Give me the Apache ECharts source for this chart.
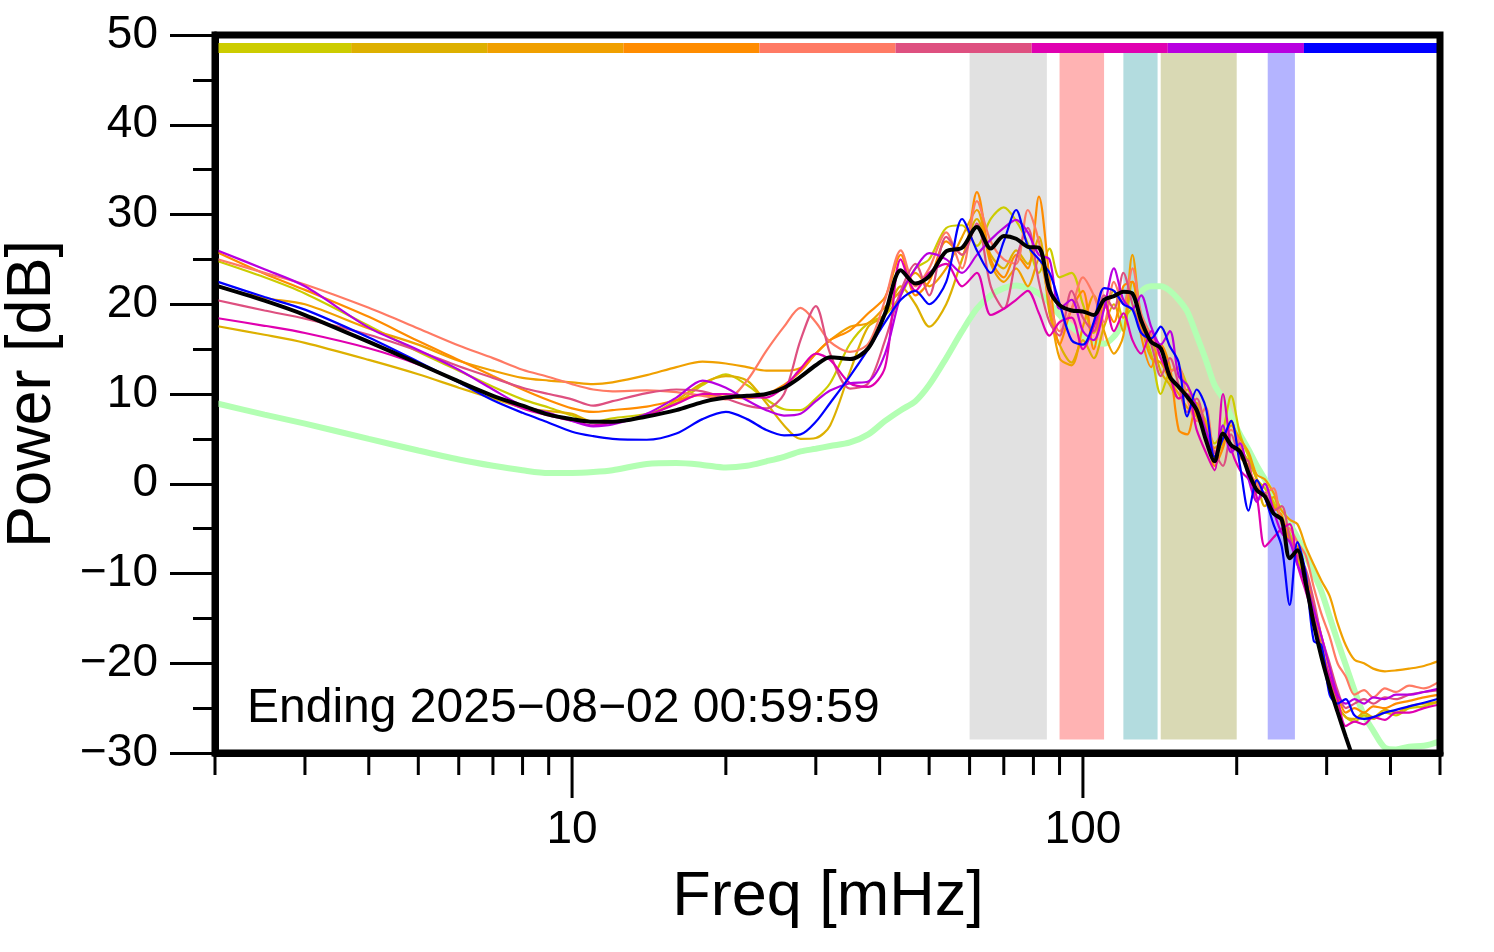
<!DOCTYPE html>
<html><head><meta charset="utf-8">
<script src="https://cdn.jsdelivr.net/npm/echarts@6/dist/echarts.min.js"></script>
<style>html,body{margin:0;padding:0;background:#fff}#c{width:1494px;height:952px}</style>
</head><body><div id="c"></div><script>
// frequencies (mHz)
const freqs = [2,2.5,3,4,5,6,7,8,9,10, 11,12,14,16,18,20,22,24,26,28, 30,32,35,38,41,44,47,50,54,58,
  62,66,70,74,78,82,86,90,95,100, 105,110,115,120,125,130,136,142,148,154, 160,167,174,181,188,195,203,211,219,227,
  236,245,254,263,273,283,293,304,315,327, 340,355,370,390,410,435,465,500];

const c1 = [24.9,23.0,21.2,17.6,14.7,12.6,10.8,9.4,8.5,7.6, 6.9,7.3,7.8,9.0,11.0,12.2,11.0,9.4,8.3,8.2,
  9.5,11.2,15.6,17.9,18.8,21.0,24.0,25.0,28.5,28.8, 26.5,29.5,30.8,29.3,26.8,23.5,26.2,23.0,23.5,20.0,
  16.8,19.5,21.5,18.5,19.5,17.5,14.5,10.0,12.5,12.8, 11.0,8.8,7.0,4.5,6.0,9.8,5.5,3.0,0.5,-0.5,
  -2.0,-4.0,-5.5,-8.0,-11.5,-15.0,-18.5,-22.0,-24.8,-26.0, -26.5,-25.8,-26.2,-25.5,-25.8,-25.0,-24.8,-24.2];
const c2 = [17.6,16.6,15.7,13.8,12.2,10.7,9.5,8.5,8.1,7.8, 6.9,7.0,7.5,9.3,11.2,12.0,11.5,9.0,6.5,5.0,
  5.1,6.5,12.5,17.5,18.8,22.0,20.0,17.5,20.0,25.0, 29.5,25.5,24.0,26.0,24.5,27.5,19.0,15.5,13.5,16.0,
  14.0,17.5,20.0,17.0,22.5,18.5,16.5,12.5,11.0,9.5, 10.5,7.5,5.5,3.0,4.5,7.0,4.0,2.5,0.5,-2.5,
  -1.5,-4.5,-6.0,-8.5,-10.5,-14.5,-18.0,-21.5,-24.5,-26.0, -26.2,-25.5,-26.0,-25.2,-25.5,-24.8,-24.5,-24.3];
const c3 = [22.0,20.7,20.0,17.3,15.5,13.7,12.6,11.8,11.5,11.3, 11.1,11.3,12.1,13.0,13.6,13.4,13.0,12.6,12.6,12.9,
  14.5,16.0,17.5,17.9,19.7,21.5,23.5,22.0,24.0,27.5, 30.5,24.5,22.5,24.0,22.0,25.0,20.0,14.0,13.2,17.5,
  21.0,17.0,14.5,16.5,25.5,18.0,14.0,13.5,11.5,10.0, 8.5,7.5,5.5,4.0,5.0,6.5,5.0,3.5,1.0,0.5,
  -1.0,-3.0,-4.0,-4.5,-7.0,-9.0,-10.8,-12.5,-15.5,-18.0, -19.6,-20.0,-20.6,-20.9,-20.8,-20.6,-20.3,-19.7];
const c4 = [25.9,23.4,21.6,18.6,15.9,13.8,12.0,10.5,9.3,8.4, 8.0,8.2,8.6,9.3,9.9,9.7,9.5,10.0,11.0,12.5,
  14.5,16.0,17.1,19.0,20.8,25.5,21.0,22.5,27.0,25.5, 32.5,25.0,23.0,25.5,24.0,32.0,23.0,15.5,19.5,21.5,
  15.0,20.0,18.0,22.0,22.5,16.5,13.0,15.5,13.0,6.0, 5.5,9.0,6.5,2.0,4.0,7.0,3.0,2.0,-1.0,0.0,
  -2.5,-3.5,-6.5,-7.0,-10.0,-13.5,-17.0,-20.5,-23.5,-25.5, -25.0,-25.5,-24.8,-25.0,-24.5,-24.2,-23.8,-23.5];
const c5 = [25.1,23.5,22.2,19.6,17.3,15.4,14.0,12.7,11.9,11.1, 10.5,10.3,10.4,10.2,9.8,9.4,11.5,14.8,17.5,19.6,
  18.0,15.8,14.7,15.6,20.5,26.0,22.0,24.0,28.0,24.0, 31.5,27.0,25.0,24.5,30.5,27.0,20.5,17.0,19.5,23.0,
  21.0,18.0,22.5,20.0,24.0,19.0,16.5,14.0,12.5,13.0, 9.5,7.0,8.5,3.5,5.0,6.0,4.5,1.5,0.0,-1.0,
  -0.5,-4.5,-5.0,-6.5,-8.0,-11.5,-14.5,-17.0,-20.0,-21.5, -23.5,-23.0,-23.8,-22.8,-23.2,-22.5,-22.8,-22.0];
const c6 = [20.5,19.3,18.4,16.6,14.8,13.1,11.8,10.7,10.0,9.4, 8.7,9.2,10.1,10.5,10.3,9.5,8.7,8.4,10.0,16.0,
  19.8,14.5,10.6,11.2,16.0,21.5,24.5,21.0,27.5,25.5, 29.0,22.0,19.5,25.0,28.5,22.5,18.0,16.5,21.5,18.5,
  17.0,21.0,19.5,23.5,20.0,17.0,15.5,12.0,14.0,11.0, 8.0,9.5,6.0,3.5,2.0,5.5,3.0,2.5,-2.0,-1.0,
  -3.0,-2.5,-6.0,-8.0,-9.5,-13.0,-17.0,-20.0,-23.0,-25.0, -24.5,-24.0,-24.5,-23.8,-24.0,-23.5,-23.2,-23.0];
const c7 = [18.5,17.6,16.8,15.1,13.3,11.4,9.8,8.4,7.6,7.0, 6.5,6.8,7.6,8.9,10.0,10.0,9.7,9.6,10.8,12.8,
  14.5,13.8,11.2,10.8,13.0,25.0,21.5,23.5,24.5,22.0, 23.5,18.8,19.5,20.5,21.5,19.0,16.5,18.0,18.5,15.0,
  17.5,20.5,17.0,19.0,16.0,14.5,17.0,14.0,12.0,9.5, 10.0,6.0,3.5,1.5,10.0,4.0,1.5,0.5,-1.5,-7.0,
  -6.0,-5.0,-4.5,-9.0,-12.0,-15.0,-18.5,-21.5,-24.0,-27.0, -26.5,-26.8,-26.0,-26.3,-25.5,-25.5,-25.0,-24.6];
const c8 = [26.1,23.9,22.0,17.4,14.9,12.7,10.5,8.7,7.9,7.0, 6.4,6.6,7.8,9.6,11.5,10.7,9.3,8.2,7.6,7.8,
  9.2,10.4,11.2,11.4,14.5,21.0,24.0,25.7,25.0,23.5, 25.5,27.2,28.5,29.4,28.0,25.5,25.0,19.5,20.5,17.0,
  16.0,19.5,24.0,20.5,19.5,21.0,17.5,15.5,17.0,12.0, 11.0,8.5,6.0,3.0,6.5,3.5,4.5,0.5,-2.0,0.0,
  -3.0,-5.5,-6.5,-9.0,-11.0,-14.0,-17.0,-20.5,-23.5,-24.5, -24.0,-24.5,-23.8,-24.0,-23.5,-23.5,-23.2,-22.8];
const c9 = [22.6,20.8,19.4,16.3,13.6,11.3,9.3,7.9,6.8,5.8, 5.3,5.0,4.9,5.6,7.2,8.0,7.2,6.0,5.4,5.5,
  6.9,9.0,12.0,15.0,18.0,20.5,21.5,20.0,22.5,29.5, 26.0,23.5,27.0,30.5,26.5,25.0,23.5,20.1,16.0,15.5,
  18.0,21.8,21.5,20.0,19.4,16.8,16.2,17.5,15.3,13.5, 7.5,10.5,8.5,3.0,5.0,7.0,2.0,-3.0,0.4,-1.5,
  -4.5,-7.0,-13.5,-6.5,-10.0,-17.5,-18.0,-23.5,-24.5,-24.0, -25.8,-26.2,-26.0,-25.5,-25.2,-24.8,-24.4,-23.9];
const meanPower = [22.1,20.4,18.8,15.8,13.4,11.4,9.8,8.7,7.7,7.2, 6.9,6.9,7.5,8.2,9.1,9.6,9.8,10.0,10.7,11.9,
  13.2,14.1,13.9,15.1,19.0,23.8,22.3,23.1,25.9,26.3, 28.6,26.2,27.6,27.3,26.4,26.3,21.6,19.9,19.3,19.2,
  18.8,20.5,20.9,21.4,21.2,18.2,15.8,15.1,11.9,10.8, 9.7,8.2,4.9,2.5,5.6,4.3,3.6,1.2,-0.7,-1.4,
  -3.3,-4.0,-8.3,-7.4,-11.1,-15.6,-19.3,-22.6,-25.4,-28.2, -31,-34,-37,-40,-42,-44,-46,-48];
const reference = [9.0,7.7,6.7,5.0,3.7,2.7,2.0,1.5,1.2,1.2, 1.3,1.5,2.2,2.3,2.1,1.8,2.0,2.5,3.0,3.6,
  3.9,4.2,4.6,5.5,7.0,8.2,9.2,11.0,14.0,17.0, 19.5,21.0,21.8,22.1,21.8,21.2,20.2,18.8,17.5,16.5,
  15.8,15.6,16.4,18.0,19.8,21.4,22.0,22.0,21.5,20.5, 19.2,16.5,13.8,11.0,9.5,7.5,5.5,3.8,2.0,0.5,
  -1.5,-3.0,-4.5,-6.0,-8.0,-10.0,-12.0,-14.8,-17.5,-20.2, -23.0,-25.8,-27.5,-29.4,-29.6,-29.3,-29.2,-28.7];

const hourSeries = [c1,c2,c3,c4,c5,c6,c7,c8,c9];
const hourColors = ['#cccc00','#ddb000','#f0a000','#ff8c00','#ff7a64','#de5080','#e000b0','#b800e0','#0000ff'];
const colorBarEdges = [2,3.694,6.822,12.60,23.27,42.98,79.38,146.6,270.8,500];
const colorBarRange = [48.0, 49.1];
const bandEdges = [[60,85],[90,110],[120,140],[142,200],[230,260]];
const bandColors = ['#e1e1e1','#ffb3b3','#b3dcdf','#d9d9b4','#b4b4ff'];
const bandRange = [-28.5, 48.0];
const xMinorTicks = [2,3,4,5,6,7,8,9,20,30,40,50,60,70,80,90,200,300,400,500];
const xMajorTicks = [10,100];
const yMin = -30, yMax = 50, yStep = 10;
const endingText = 'Ending 2025\u221208\u221202 00:59:59';

const FONT = "'Liberation Sans', Arial, sans-serif";
const chart = echarts.init(document.getElementById('c'), null, {renderer:'canvas'});

const rectItem = (colors) => (params, api) => {
  const p0 = api.coord([api.value(0), api.value(3)]);
  const p1 = api.coord([api.value(1), api.value(2)]);
  return {type:'rect', shape:{x:p0[0], y:p0[1], width:p1[0]-p0[0], height:p1[1]-p0[1]},
          style:{fill: colors[api.value(4)]}};
};

const series = [];
series.push({type:'custom', name:'bands', coordinateSystem:'cartesian2d', silent:true, z:1,
  encode:{x:[0,1], y:[2,3]},
  data: bandEdges.map((b,i)=>[b[0], b[1], bandRange[0], bandRange[1], i]),
  renderItem: rectItem(bandColors)});
series.push({type:'custom', name:'colorbar', coordinateSystem:'cartesian2d', silent:true, z:2,
  encode:{x:[0,1], y:[2,3]},
  data: hourColors.map((c,i)=>[colorBarEdges[i], colorBarEdges[i+1], colorBarRange[0], colorBarRange[1], i]),
  renderItem: rectItem(hourColors)});
series.push({type:'line', name:'reference', data: freqs.map((f,i)=>[f, reference[i]]),
  showSymbol:false, symbol:'none', smooth:0.3, z:3,
  lineStyle:{color:'#b3ffb3', width:6}});
hourSeries.forEach((arr, k) => {
  series.push({type:'line', name:'h'+k, data: freqs.map((f,i)=>[f, arr[i]]),
    showSymbol:false, symbol:'none', smooth:0.3, z:4,
    lineStyle:{color: hourColors[k], width:2.2}});
});
series.push({type:'line', name:'mean', data: freqs.map((f,i)=>[f, meanPower[i]]),
  showSymbol:false, symbol:'none', smooth:0.3, z:5,
  lineStyle:{color:'#000', width:4}});
const tickData = xMinorTicks.map(v=>[v, yMin, 22]).concat(xMajorTicks.map(v=>[v, yMin, 45]));
series.push({type:'custom', name:'xticks', coordinateSystem:'cartesian2d', silent:true, clip:false, z:6,
  data: tickData,
  renderItem: (params, api) => {
    const p = api.coord([api.value(0), api.value(1)]);
    return {type:'line', shape:{x1:p[0], y1:p[1], x2:p[0], y2:p[1]+api.value(2)},
            style:{stroke:'#000', lineWidth:3}};
  }});

const isMajor = v => xMajorTicks.some(t => Math.abs(v - t) / t < 1e-6);

chart.setOption({
  animation:false,
  backgroundColor:'#fff',
  grid:{left:215, right:54, top:35, bottom:199, show:true, borderColor:'#000', borderWidth:7, backgroundColor:'transparent', z:10},
  xAxis:{type:'log', logBase:10, min:2, max:500,
    axisLine:{show:true, onZero:false, lineStyle:{color:'#000', width:7}},
    axisTick:{show:false}, minorTick:{show:false}, splitLine:{show:false}, minorSplitLine:{show:false},
    axisLabel:{show:true, fontSize:46, fontFamily:FONT, color:'#000', margin:54,
      showMinLabel:true, showMaxLabel:true,
      formatter: v => isMajor(v) ? String(Math.round(v)) : ''}},
  yAxis:{type:'value', min:yMin, max:yMax, interval:yStep,
    axisLine:{show:true, onZero:false, lineStyle:{color:'#000', width:7}},
    axisTick:{show:true, length:45, lineStyle:{color:'#000', width:3}},
    minorTick:{show:true, splitNumber:2, length:22, lineStyle:{color:'#000', width:3}},
    splitLine:{show:false},
    axisLabel:{fontSize:46, fontFamily:FONT, color:'#000', margin:57,
      formatter: v => String(v).replace('-', '\u2212')}},
  graphic:[
    {type:'text', x:828, y:898, z:100, style:{text:'Freq [mHz]', font:'63px '+FONT, fill:'#000', align:'center', verticalAlign:'middle'}},
    {type:'text', x:33, y:394, rotation:Math.PI/2, z:100, style:{text:'Power [dB]', font:'63px '+FONT, fill:'#000', align:'center', verticalAlign:'middle'}},
    {type:'text', x:247, y:709, z:100, style:{text:endingText, font:'48px '+FONT, fill:'#000', align:'left', verticalAlign:'middle'}}
  ],
  series: series
});
</script></body></html>
